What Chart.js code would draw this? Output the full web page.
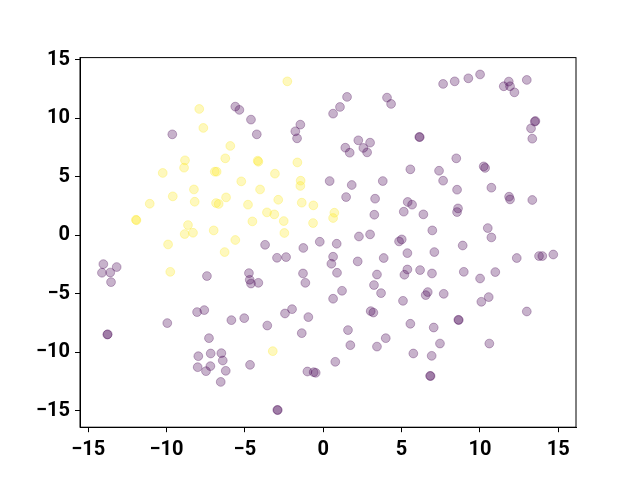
<!DOCTYPE html>
<html>
<head>
    <title>Scatter</title>
    <style type="text/css">
        body { margin: 0; background: #fff; }
        canvas { display: block; }
    </style>
    <script src="https://cdn.jsdelivr.net/npm/chart.js@4.4.0/dist/chart.umd.min.js"></script>
</head>
<body>
    <canvas id="chartContainer" width="640" height="480"></canvas>
    <script>
        // points, class 1 (yellow)
        var yellowX = [-7.91, -7.65, -5.93, -6.25, -8.82, -8.88, -10.24, -6.92, -6.80, -5.23, -8.25, -9.60, -6.20, -11.07, -8.20, -6.84,
            -6.67, -4.80, -11.95, -11.92, -8.63, -8.84, -8.31, -6.99, -5.61, -9.90, -4.52, -2.29, -4.18, -4.14, -1.65, -3.08,
            -1.44, -1.46, -4.03, -2.87, -1.37, -0.63, -3.59, -3.12, -2.52, 0.71, 0.63, -0.65, -2.48, -6.29, -9.76, -3.22];
        var yellowY = [10.81, 9.19, 7.65, 6.59, 6.42, 5.79, 5.34, 5.45, 5.45, 4.62, 3.93, 3.34, 3.25, 2.71, 2.88, 2.77,
            2.69, 2.63, 1.34, 1.30, 0.89, 0.12, 0.23, 0.43, -0.39, -0.77, 1.20, 13.17, 6.39, 6.30, 6.24, 5.28,
            4.68, 4.23, 3.93, 3.05, 2.80, 2.57, 1.97, 1.80, 1.23, 1.94, 1.49, 1.06, 0.21, -1.42, -3.11, -9.89];

        // class 0 (purple)
        var purpleX = [-5.61, -5.35, -4.61, -9.63, 1.52, 1.07, 0.63, 4.07, 4.33, -1.46, -1.78, -1.67, -4.24, 2.24, 2.99, 1.41,
            1.69, 2.56, 2.80, 0.41, 1.82, 3.80, 1.46, 3.31, 5.14, 3.26, 2.28, 2.99, 4.84, 5.01, -3.71, -1.27,
            -0.22, 0.86, 5.56, 5.39, 5.67, 7.65, 8.39, 9.26, 10.01, 11.52, 11.84, 11.92, 12.20, 12.99, 13.50, 13.54,
            13.26, 13.34, 6.13, 6.16, 8.49, 10.24, 10.33, 7.39, 7.65, 8.54, 10.73, 11.86, 11.92, 13.34, 8.60, 8.54,
            6.39, 6.96, 10.50, 10.73, 8.90, -14.03, -13.18, -14.12, -13.59, -13.54, -7.42, -8.05, -7.59, -9.95, -5.86, -5.04,
            -13.78, -13.75, -7.29, -7.97, -7.18, -6.50, -6.41, -8.01, -7.20, -7.48, -6.22, -6.54, -2.95, -2.37, 0.63, 0.52,
            2.20, 3.86, 5.37, -4.74, -4.69, -4.61, -4.14, -1.29, -1.14, 0.88, 3.43, 5.37, 5.18, 3.24, 3.69, 1.20,
            0.63, 5.09, 3.03, 3.20, -2.44, -1.99, -0.95, -3.57, -1.37, 1.58, 5.56, 1.73, 3.43, 3.99, 5.75, -4.67,
            0.77, -1.01, -0.61, -0.48, -2.93, -2.90, 7.09, 12.35, 13.77, 13.98, 14.68, 6.18, 6.94, 8.97, 10.01, 10.98,
            6.67, 6.54, 7.69, 10.09, 10.56, 12.99, 7.05, 8.62, 8.65, 10.60, 7.45, 6.92, 6.82, 6.85];
        var purpleY = [11.01, 10.73, 9.90, 8.64, 11.84, 10.98, 10.41, 11.78, 11.24, 9.47, 8.90, 8.30, 8.64, 8.13, 7.93, 7.50,
            7.07, 7.48, 7.10, 4.65, 4.31, 4.65, 3.28, 3.14, 2.03, 1.77, -0.09, 0.09, -0.51, -0.34, -0.80, -1.07,
            -0.54, -0.71, 5.65, 2.86, 2.63, 12.95, 13.17, 13.43, 13.76, 12.75, 13.15, 12.75, 12.23, 13.29, 9.73, 9.78,
            9.15, 8.27, 8.42, 8.40, 6.59, 5.90, 5.77, 5.53, 4.68, 3.91, 4.08, 3.31, 3.08, 3.03, 2.31, 2.00,
            1.80, 0.43, 0.63, -0.17, -0.86, -2.45, -2.70, -3.19, -3.17, -3.99, -3.47, -6.55, -6.38, -7.49, -7.24, -7.07,
            -8.47, -8.45, -8.78, -10.32, -10.09, -10.06, -10.69, -11.26, -11.17, -11.60, -11.57, -12.52, -1.91, -1.85, -1.82, -2.42,
            -2.22, -1.93, -1.51, -3.22, -3.79, -4.11, -4.05, -3.25, -4.05, -3.19, -3.34, -2.91, -3.36, -4.24, -4.93, -4.73,
            -5.41, -5.59, -6.47, -6.59, -6.67, -6.30, -6.98, -7.70, -8.35, -8.09, -7.55, -9.38, -9.50, -8.78, -10.09, -11.06,
            -10.80, -11.63, -11.69, -11.74, -14.91, -14.93, -1.42, -1.93, -1.76, -1.76, -1.63, -2.96, -3.25, -3.11, -3.68, -3.13,
            -4.84, -5.10, -4.99, -5.67, -5.27, -6.50, -7.87, -7.21, -7.23, -9.24, -9.24, -10.29, -12.00, -12.02];

        var tickValues = [-15, -10, -5, 0, 5, 10, 15];

        function toPoints(xs, ys) {
            return xs.map((x, i) => ({ x: x, y: ys[i] }));
        }

        // matplotlib style box around the plot area
        var frame = {
            id: 'frame',
            afterDraw(chart) {
                var a = chart.chartArea;
                var ctx = chart.ctx;
                ctx.save();
                ctx.strokeStyle = '#000';
                ctx.lineWidth = 1;
                ctx.strokeRect(a.left, a.top, a.right - a.left, a.bottom - a.top);
                ctx.restore();
            }
        };

        function axisOptions(min, max, isX) {
            return {
                type: 'linear',
                min: min,
                max: max,
                afterBuildTicks: scale => { scale.ticks = tickValues.map(v => ({ value: v })); },
                afterFit: scale => {
                    if (isX) scale.height = 52.8; else scale.width = 80;
                },
                grid: { drawOnChartArea: false, drawTicks: true, tickLength: 5, color: '#000' },
                border: { display: true, color: '#000', width: 1 },
                ticks: {
                    padding: isX ? 6 : 5,
                    color: '#000',
                    font: { family: 'Roboto', weight: 'bold', size: 20 },
                    callback: v => String(v).replace('-', '\u2212')
                }
            };
        }

        var purple = 'rgba(68, 1, 84, 0.3)';
        var yellow = 'rgba(253, 231, 37, 0.3)';

        new Chart(document.getElementById('chartContainer'), {
            type: 'scatter',
            data: {
                datasets: [
                    {
                        data: toPoints(purpleX, purpleY),
                        backgroundColor: purple,
                        borderColor: purple,
                        borderWidth: 1,
                        pointRadius: 4.4
                    },
                    {
                        data: toPoints(yellowX, yellowY),
                        backgroundColor: yellow,
                        borderColor: yellow,
                        borderWidth: 1,
                        pointRadius: 4.4
                    }
                ]
            },
            options: {
                responsive: false,
                animation: false,
                devicePixelRatio: 1,
                layout: { padding: { left: 0, top: 57.6, right: 64, bottom: 0 } },
                plugins: { legend: { display: false }, tooltip: { enabled: false } },
                scales: {
                    x: axisOptions(-15.52, 16.13, true),
                    y: axisOptions(-16.39, 15.2, false)
                }
            },
            plugins: [frame]
        });
    </script>
</body>
</html>
